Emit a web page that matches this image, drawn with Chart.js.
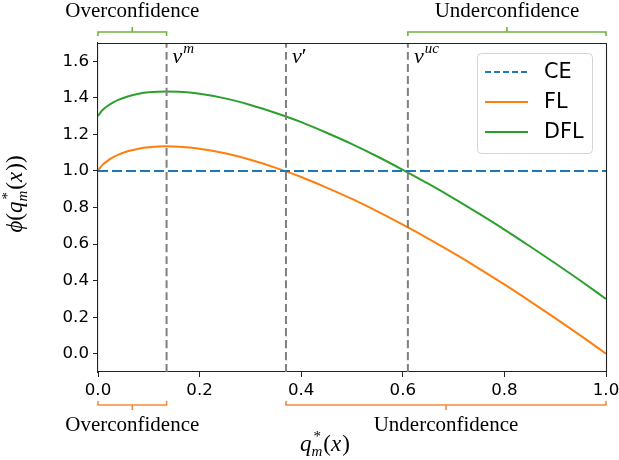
<!DOCTYPE html>
<html>
<head>
<meta charset="utf-8">
<script src="https://cdn.jsdelivr.net/npm/chart.js@4"></script>
<style>
  html, body { margin: 0; padding: 0; background: #fff; }
  #wrap { width: 619px; height: 460px; }
</style>
</head>
<body>
<div id="wrap"><canvas id="chart" width="619" height="460"></canvas></div>
<script>
"use strict";

// ── Data ─────────────────────────────────────────────────────────
const qValues   = [0, 0.005, 0.01, 0.02, 0.03, 0.04, 0.06, 0.08, 0.10, 0.135, 0.16, 0.20, 0.25, 0.30, 0.35,
                   0.40, 0.45, 0.50, 0.55, 0.60, 0.65, 0.70, 0.75, 0.80, 0.85, 0.90, 0.95, 1.0];
const flValues  = [1.000, 1.021, 1.036, 1.058, 1.075, 1.089, 1.109, 1.122, 1.130, 1.135, 1.133, 1.122, 1.097, 1.061, 1.017,
                   0.967, 0.909, 0.847, 0.779, 0.706, 0.630, 0.550, 0.466, 0.379, 0.288, 0.195, 0.099, 0.000];
const dflValues = [1.300, 1.321, 1.336, 1.358, 1.375, 1.389, 1.409, 1.422, 1.430, 1.435, 1.433, 1.422, 1.397, 1.361, 1.317,
                   1.267, 1.209, 1.147, 1.079, 1.006, 0.930, 0.850, 0.766, 0.679, 0.588, 0.495, 0.399, 0.300];
const ceX       = [0, 1];
const ceValues  = [1.0, 1.0];
const vLines    = [0.135, 0.37, 0.61];
const vNames    = [["v", "m"], ["v", "\u2032"], ["v", "uc"]];
const xTicks    = [0, 0.2, 0.4, 0.6, 0.8, 1.0];
const yTicks    = [0, 0.2, 0.4, 0.6, 0.8, 1.0, 1.2, 1.4, 1.6];
const topRanges = [[0, 0.135, "Overconfidence"], [0.61, 1.0, "Underconfidence"]];
const botRanges = [[0, 0.135, "Overconfidence"], [0.37, 1.0, "Underconfidence"]];

const PALETTE = {
  ce:    "#1f77b4",
  fl:    "#ff7f0e",
  dfl:   "#2ca02c",
  vline: "#808080",
  brTop: "#6db33f",
  brBot: "#f28a3c",
  axis:  "#222222",
};

const SANS  = "'DejaVu Sans', sans-serif";
const SERIF = "'Liberation Serif', 'DejaVu Serif', serif";
const TICK_FONT = { family: "DejaVu Sans", size: 16.67 };

const pts = (xs, ys) => xs.map((x, i) => ({ x, y: ys[i] }));

// ── Math-ish text helper (italic/sub/sup pieces) ─────────────────
function mathWidth(ctx, parts) {
  let w = 0;
  for (const p of parts) {
    ctx.font = (p.i ? "italic " : "") + p.s + "px " + SERIF;
    if (p.adv !== false) w += ctx.measureText(p.t).width + (p.gap || 0);
  }
  return w;
}
function drawMath(ctx, parts, x, y) {
  let cx = x;
  for (const p of parts) {
    ctx.font = (p.i ? "italic " : "") + p.s + "px " + SERIF;
    ctx.fillText(p.t, cx + (p.dx || 0), y + (p.dy || 0));
    if (p.adv !== false) cx += ctx.measureText(p.t).width + (p.gap || 0);
  }
}

// ── Bracket "-[" shape ────────────────────────────────────────────
function bracket(ctx, x0, x1, y, dir, color) {
  // dir = +1 : ends point down, nub up (top brackets); -1 : the opposite
  ctx.save();
  ctx.strokeStyle = color;
  ctx.lineWidth = 1.6;
  ctx.beginPath();
  ctx.moveTo(x0, y + 4 * dir);
  ctx.lineTo(x0, y);
  ctx.lineTo(x1, y);
  ctx.lineTo(x1, y + 4 * dir);
  const mid = (x0 + x1) / 2;
  ctx.moveTo(mid, y);
  ctx.lineTo(mid, y - 5 * dir);
  ctx.stroke();
  ctx.restore();
}

const decorPlugin = {
  id: "decor",
  afterDatasetsDraw(chart) {
    const { ctx, chartArea: a, scales: { x } } = chart;

    // top + right spines
    ctx.save();
    ctx.strokeStyle = PALETTE.axis;
    ctx.lineWidth = 1.1;
    ctx.beginPath();
    ctx.moveTo(a.left, a.top + 0.5);
    ctx.lineTo(a.right + 0.5, a.top + 0.5);
    ctx.lineTo(a.right + 0.5, a.bottom);
    ctx.stroke();

    // v labels
    ctx.fillStyle = "#000";
    ctx.textAlign = "left";
    ctx.textBaseline = "alphabetic";
    vLines.forEach((v, i) => {
      const px = x.getPixelForValue(v) + 6;
      const [base, sup] = vNames[i];
      const prime = sup === "\u2032";
      drawMath(ctx, [
        { t: base, i: true, s: 22, gap: prime ? 0 : 1 },
        { t: sup, i: !prime, s: prime ? 22 : 15, dy: prime ? 0 : -10 },
      ], px, 63);
    });

    // legend
    const lx = 477, ly = 53, lw = 115, lh = 100;
    ctx.fillStyle = "rgba(255,255,255,0.8)";
    ctx.strokeStyle = "#d4d4d4";
    ctx.lineWidth = 1;
    ctx.beginPath();
    ctx.roundRect(lx + 0.5, ly + 0.5, lw, lh, 4);
    ctx.fill();
    ctx.stroke();
    const items = [["CE", PALETTE.ce, [6, 3]], ["FL", PALETTE.fl, []], ["DFL", PALETTE.dfl, []]];
    items.forEach(([label, col, dash], i) => {
      const yy = 72 + i * 30;
      ctx.strokeStyle = col;
      ctx.lineWidth = 2;
      ctx.setLineDash(dash);
      ctx.beginPath();
      ctx.moveTo(485, yy);
      ctx.lineTo(528, yy);
      ctx.stroke();
      ctx.setLineDash([]);
      ctx.fillStyle = "#000";
      ctx.font = "20.8px " + SANS;
      ctx.textBaseline = "middle";
      ctx.fillText(label, 544, yy + 1);
    });
    ctx.textBaseline = "alphabetic";

    // brackets + range labels
    ctx.textAlign = "center";
    ctx.font = "21px " + SERIF;
    ctx.fillStyle = "#000";
    topRanges.forEach(([a0, a1, txt]) => {
      const p0 = x.getPixelForValue(a0), p1 = x.getPixelForValue(a1);
      bracket(ctx, p0, p1, 32, 1, PALETTE.brTop);
      ctx.fillText(txt, (p0 + p1) / 2, 17);
    });
    botRanges.forEach(([a0, a1, txt]) => {
      const p0 = x.getPixelForValue(a0), p1 = x.getPixelForValue(a1);
      bracket(ctx, p0, p1, 405, -1, PALETTE.brBot);
      ctx.fillText(txt, (p0 + p1) / 2, 431);
    });

    // axis titles
    ctx.textAlign = "left";
    const xTitle = [
      { t: "q", i: true, s: 23 },
      { t: "*", s: 15, dy: -10, dx: 2, adv: false },
      { t: "m", i: true, s: 15, dy: 5, gap: 1 },
      { t: "(", s: 23 }, { t: "x", i: true, s: 23, gap: 1 }, { t: ")", s: 23 },
    ];
    drawMath(ctx, xTitle, 300, 451);

    const yTitle = [{ t: "\u03D5", i: true, s: 23 }, { t: "(", s: 23 }].concat(xTitle, [{ t: ")", s: 23 }]);
    const w = mathWidth(ctx, yTitle);
    ctx.translate(22, 194);
    ctx.rotate(-Math.PI / 2);
    drawMath(ctx, yTitle, -w / 2, 0);
    ctx.restore();
  },
};

// ── Chart ─────────────────────────────────────────────────────────
const lineDs = (data, color, extra) => Object.assign({
  data, borderColor: color, borderWidth: 2, pointRadius: 0, tension: 0.4,
  cubicInterpolationMode: "monotone", fill: false,
}, extra || {});

const vDatasets = vLines.map(v => lineDs(pts([v, v], [-0.1, 1.7]), PALETTE.vline, { borderDash: [8, 4], tension: 0 }));

new Chart(document.getElementById("chart"), {
  type: "line",
  data: {
    datasets: [
      ...vDatasets,
      lineDs(pts(ceX, ceValues), PALETTE.ce, { borderDash: [10, 4], tension: 0 }),
      lineDs(pts(qValues, flValues), PALETTE.fl),
      lineDs(pts(qValues, dflValues), PALETTE.dfl),
    ],
  },
  options: {
    responsive: false,
    animation: false,
    events: [],
    layout: { padding: { top: 43, right: 13, left: 0, bottom: 0 } },
    plugins: { legend: { display: false }, tooltip: { enabled: false } },
    scales: {
      x: {
        type: "linear", min: 0, max: 1,
        afterBuildTicks: s => { s.ticks = xTicks.map(value => ({ value })); },
        afterFit: s => { s.height = 88; s.paddingLeft = 0; s.paddingRight = 0; },
        ticks: { color: "#000", font: TICK_FONT, padding: 4, maxRotation: 0, callback: v => v.toFixed(1) },
        grid: { drawOnChartArea: false, tickLength: 5, tickColor: PALETTE.axis },
        border: { color: PALETTE.axis, width: 1.1 },
      },
      y: {
        type: "linear", min: -0.1, max: 1.7,
        afterBuildTicks: s => { s.ticks = yTicks.map(value => ({ value })); },
        afterFit: s => { s.width = 98; s.paddingTop = 0; s.paddingBottom = 0; },
        ticks: { color: "#000", font: TICK_FONT, padding: 4, callback: v => v.toFixed(1) },
        grid: { drawOnChartArea: false, tickLength: 5, tickColor: PALETTE.axis },
        border: { color: PALETTE.axis, width: 1.1 },
      },
    },
  },
  plugins: [decorPlugin],
});
</script>
</body>
</html>
